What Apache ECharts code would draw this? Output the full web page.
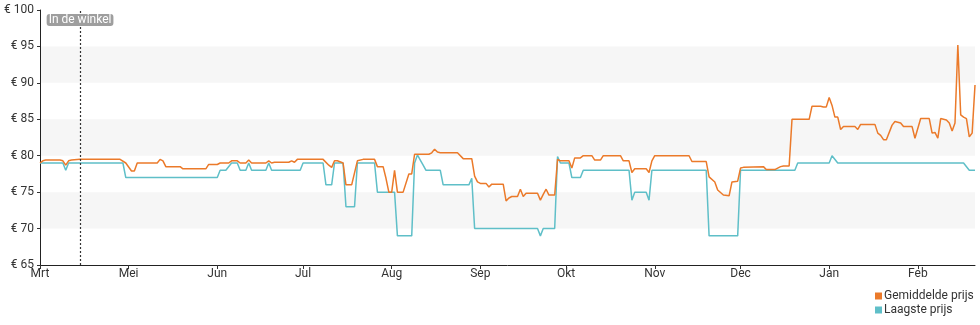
<!DOCTYPE html>
<html>
<head>
<meta charset="utf-8">
<script src="https://cdn.jsdelivr.net/npm/echarts@6/dist/echarts.min.js"></script>
<style>
  html, body { margin: 0; padding: 0; background: #fff; }
  #chart { width: 980px; height: 325px; }
</style>
</head>
<body>
<div id="chart"></div>
<script>
// Start date of the axis (31 Mar 2023); days below are offsets from it.
const START = [2023, 2, 31];
const END_DAY = 327;
const monthLabels = ['Jan', 'Feb', 'Mrt', 'Apr', 'Mei', 'Jun', 'Jul', 'Aug', 'Sep', 'Okt', 'Nov', 'Dec'];
const seriesNames = ['Gemiddelde prijs', 'Laagste prijs'];
const storeDay = 14;
const storeLabel = 'In de winkel';
const yTicks = [65, 70, 75, 80, 85, 90, 95, 100];

// Gemiddelde prijs (average price)
const avgDays = [0, 1, 2, 7, 8, 9, 10, 11, 14, 28, 30, 32, 33, 34, 41, 42, 43, 44, 49, 50,
  58, 59, 62, 63, 66, 67, 69, 70, 72, 73, 74, 79, 80, 81, 82, 87, 88, 89, 90, 99,
  101, 102, 103, 104, 106, 107, 109, 111, 113, 117, 118, 120, 121, 122, 123, 124, 125, 127, 129, 130,
  131, 136, 137, 138, 139, 140, 146, 148, 151, 152, 153, 154, 156, 157, 158, 162, 163, 164, 165, 167,
  168, 169, 170, 174, 175, 176, 177, 178, 180, 181, 182, 185, 186, 187, 189, 190, 193, 194, 196, 197,
  203, 204, 206, 207, 208, 212, 213, 214, 215, 227, 228, 233, 234, 236, 237, 239, 241, 242, 244, 245,
  246, 253, 254, 257, 259, 260, 262, 263, 269, 270, 273, 274, 275, 276, 277, 278, 279, 280, 281, 285,
  286, 287, 292, 293, 294, 295, 296, 298, 299, 301, 302, 305, 306, 308, 311, 312, 313, 314, 315, 317,
  318, 319, 320, 321, 322, 323, 324, 325, 326, 327];
const avgPrices = [79.0, 79.3, 79.4, 79.4, 79.3, 78.7, 79.3, 79.4, 79.5, 79.5, 79.0, 77.9, 77.9, 79.0, 79.0, 79.5, 79.3, 78.5, 78.5, 78.2,
  78.2, 78.8, 78.8, 79.0, 79.0, 79.3, 79.3, 79.0, 79.0, 79.4, 79.0, 79.0, 79.3, 79.0, 79.1, 79.1, 79.3, 79.1, 79.5, 79.5,
  78.7, 78.4, 79.3, 79.3, 79.0, 76.0, 76.0, 79.3, 79.5, 79.5, 78.5, 78.5, 76.9, 75.0, 75.0, 78.0, 75.0, 75.0, 77.5, 77.5,
  80.2, 80.2, 80.4, 80.9, 80.5, 80.4, 80.4, 79.6, 79.6, 77.2, 76.4, 76.2, 76.2, 75.7, 76.1, 76.1, 73.8, 74.2, 74.4, 74.4,
  75.4, 74.4, 74.85, 74.85, 73.9, 74.7, 75.4, 74.6, 74.6, 79.5, 79.3, 79.3, 78.3, 79.7, 79.7, 80.0, 80.0, 79.4, 79.4, 80.0,
  80.0, 79.3, 79.3, 77.7, 78.2, 78.2, 77.7, 79.3, 80.0, 80.0, 79.2, 79.2, 77.1, 76.4, 75.3, 74.6, 74.5, 76.4, 76.5, 78.3,
  78.4, 78.5, 78.1, 78.1, 78.5, 78.6, 78.6, 85.0, 85.0, 86.8, 86.8, 86.7, 86.7, 88.0, 86.9, 85.3, 85.3, 83.6, 84.0, 84.0,
  83.6, 84.3, 84.3, 83.1, 82.8, 82.2, 82.2, 84.2, 84.7, 84.5, 84.0, 84.0, 82.4, 85.1, 85.1, 83.1, 83.2, 82.4, 85.1, 84.9,
  84.5, 83.4, 84.5, 95.2, 85.6, 85.3, 85.1, 82.6, 83.1, 89.7];

// Laagste prijs (lowest price)
const lowDays = [0, 8, 9, 10, 29, 30, 62, 63, 65, 67, 69, 70, 72, 73, 74, 79, 80, 81, 91, 92,
  99, 100, 102, 103, 106, 107, 110, 111, 117, 118, 124, 125, 130, 131, 132, 133, 134, 135, 140, 141,
  150, 151, 152, 174, 175, 176, 180, 181, 182, 185, 186, 189, 190, 206, 207, 208, 212, 213, 214, 233,
  234, 244, 245, 264, 265, 276, 277, 279, 323, 325, 327];
const lowPrices = [79.0, 79.0, 78.0, 79.0, 79.0, 77.0, 77.0, 78.0, 78.0, 79.0, 79.0, 78.0, 78.0, 79.0, 78.0, 78.0, 79.0, 78.0, 78.0, 79.0,
  79.0, 76.0, 76.0, 79.0, 79.0, 73.0, 73.0, 79.0, 79.0, 75.0, 75.0, 69.0, 69.0, 79.0, 80.1, 79.4, 78.7, 78.0, 78.0, 76.0,
  76.0, 76.9, 70.0, 70.0, 69.0, 70.0, 70.0, 79.9, 79.0, 79.0, 77.0, 77.0, 78.0, 78.0, 73.9, 75.0, 75.0, 73.9, 78.0, 78.0,
  69.0, 69.0, 78.0, 78.0, 79.0, 79.0, 80.0, 79.0, 79.0, 78.0, 78.0];

function dayToTime(d) {
  return new Date(START[0], START[1], START[2] + d).getTime();
}
function pairs(days, vals) {
  return days.map((d, i) => [dayToTime(d), vals[i]]);
}
const tickTimes = [dayToTime(0)];
for (let m = 4; m <= 13; m++) tickTimes.push(new Date(2023, m, 1).getTime());

const chart = echarts.init(document.getElementById('chart'), null, { renderer: 'canvas' });
const FONT = 'Roboto';
chart.setOption({
  animation: false,
  textStyle: { fontFamily: FONT },
  grid: { left: 40, right: 5, top: 10, bottom: 60, containLabel: false },
  legend: {
    orient: 'vertical',
    left: 875,
    top: 290,
    padding: 0,
    itemGap: 2,
    itemWidth: 7,
    itemHeight: 7,
    icon: 'rect',
    data: seriesNames,
    textStyle: { fontFamily: FONT, fontSize: 12, color: '#333', padding: [0, 0, 0, -3] }
  },
  xAxis: {
    type: 'value',
    min: dayToTime(0),
    max: dayToTime(END_DAY),
    axisLine: { onZero: false, lineStyle: { color: '#222', width: 1 } },
    axisTick: { show: true, length: 4, customValues: tickTimes, lineStyle: { color: '#333' } },
    axisLabel: {
      customValues: tickTimes,
      formatter: v => monthLabels[new Date(v).getMonth()],
      color: '#333', fontSize: 12, fontFamily: FONT, margin: 3,
      showMinLabel: true, hideOverlap: false
    },
    splitLine: { show: false }
  },
  yAxis: {
    type: 'value',
    min: yTicks[0],
    max: yTicks[yTicks.length - 1],
    interval: 5,
    axisLine: { show: true, lineStyle: { color: '#222', width: 1 } },
    axisTick: { show: true, length: 3, lineStyle: { color: '#333' } },
    axisLabel: { formatter: '€ {value}', color: '#333', fontSize: 12, fontFamily: FONT, margin: 6 },
    splitLine: { show: false },
    splitArea: { show: true, areaStyle: { color: ['rgba(255,255,255,0)', '#f6f6f6'] } }
  },
  series: [
    {
      name: seriesNames[0],
      type: 'line',
      data: pairs(avgDays, avgPrices),
      showSymbol: false,
      symbol: 'none',
      color: '#eb7a2a',
      lineStyle: { width: 1.5, color: '#eb7a2a' },
      z: 3,
      markLine: {
        silent: true,
        symbol: ['none', 'none'],
        animation: false,
        lineStyle: { color: '#333', type: [2, 2], width: 1.2 },
        label: {
          show: true,
          position: 'end',
          distance: -16,
          formatter: storeLabel,
          color: '#fff',
          backgroundColor: '#9e9e9e',
          borderRadius: 3,
          padding: [0, 2],
          fontSize: 12,
          lineHeight: 12,
          fontFamily: FONT
        },
        data: [{ xAxis: dayToTime(storeDay) }]
      }
    },
    {
      name: seriesNames[1],
      type: 'line',
      data: pairs(lowDays, lowPrices),
      showSymbol: false,
      symbol: 'none',
      color: '#5fbfc8',
      lineStyle: { width: 1.5, color: '#5fbfc8' },
      z: 2
    }
  ]
});
</script>
</body>
</html>
